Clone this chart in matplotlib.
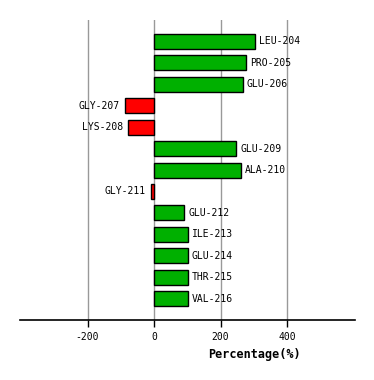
import matplotlib
matplotlib.use("Agg")
import matplotlib.pyplot as plt

residues = ["LEU-204", "PRO-205", "GLU-206", "GLY-207", "LYS-208", "GLU-209",
            "ALA-210", "GLY-211", "GLU-212", "ILE-213", "GLU-214", "THR-215", "VAL-216"]
values = [303, 276, 266, -86, -77, 246, 260, -8, 91, 101, 101, 101, 101]
xticks = [-200, 0, 200, 400]

W, H = 374, 380
fig = plt.figure(figsize=(W / 100, H / 100), dpi=100)
ax = fig.add_axes([20 / W, (H - 320) / H, (355 - 20) / W, 300 / H])

ypos = list(range(len(residues)))
colors = ["#00B000" if v >= 0 else "#FF0000" for v in values]
ax.barh(ypos, values, height=0.7, color=colors, edgecolor="black", linewidth=1.0, zorder=3)

for y, v, name in zip(ypos, values, residues):
    if v >= 0:
        ax.annotate(name, (v, y), xytext=(3, 0), textcoords="offset points",
                    ha="left", va="center", fontsize=7, family="DejaVu Sans Mono")
    else:
        ax.annotate(name, (v, y), xytext=(-4, 0), textcoords="offset points",
                    ha="right", va="center", fontsize=7, family="DejaVu Sans Mono")

ax.set_xlim(-403, 604)
ax.set_ylim(len(residues), -1)
ax.set_xticks(xticks)
ax.set_xticklabels([str(t) for t in xticks], fontsize=7, family="DejaVu Sans Mono")
ax.set_yticks([])
ax.tick_params(axis="x", length=5, width=1, direction="out", pad=4)
ax.grid(axis="x", color="#999999", linewidth=1, zorder=0)
for s in ["top", "left", "right"]:
    ax.spines[s].set_visible(False)
ax.spines["bottom"].set_linewidth(1.2)

fig.text(254.5 / W, 1 - 354.5 / H, "Percentage(%)", ha="center", va="center",
         fontsize=8.5, fontweight="bold", family="DejaVu Sans Mono")

fig.savefig("out.png", dpi=100)
